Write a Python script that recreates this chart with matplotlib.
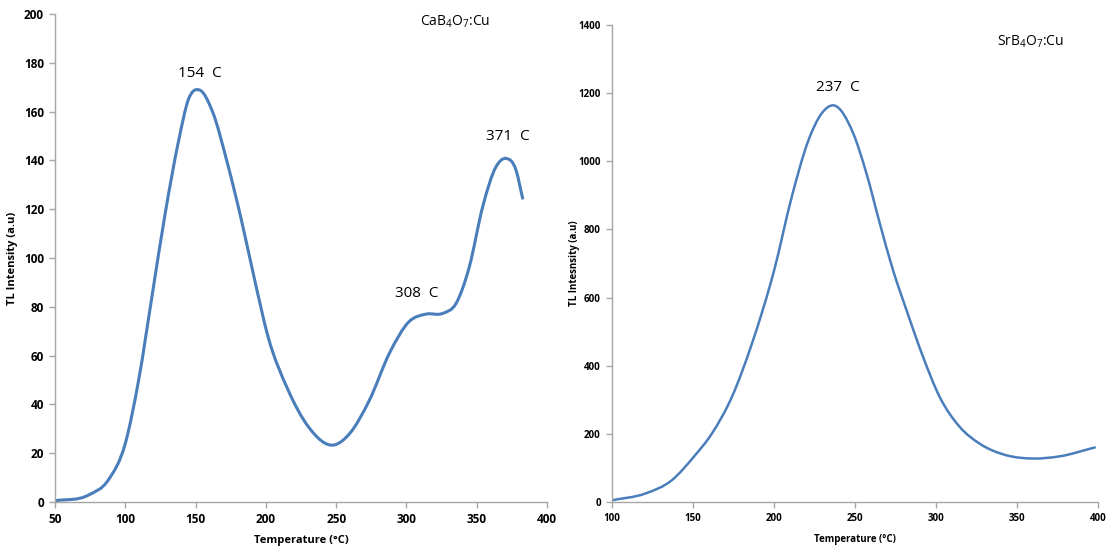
import numpy as np
import matplotlib.pyplot as plt
from matplotlib.path import Path
from matplotlib.patches import PathPatch

plt.rcParams['font.family'] = ['Open Sans', 'DejaVu Sans']
plt.rcParams['mathtext.fontset'] = 'custom'
plt.rcParams['mathtext.rm'] = 'Open Sans'
plt.rcParams['mathtext.it'] = 'Open Sans'

# CaB4O7:Cu glow curve
ca_temp = [50, 73.7, 87.9, 100, 109.5, 118.9, 128.4, 137.9, 144.9, 153, 162,
           173, 182.6, 192, 201.5, 215.7, 230, 248.9, 259.5, 273.7, 287.9, 302,
           314, 325.8, 335.3, 344.7, 354.2, 363.7, 370.8, 377.9, 382.6]
ca_tl = [0.5, 2.8, 9, 24, 50, 84, 118.4, 148, 165, 168.8, 160,
         138, 115.5, 91, 67.8, 46, 31, 23.4, 28, 41.8, 61, 74,
         77, 77.3, 81.4, 96.4, 121, 137.4, 140.8, 136, 124.5]

# SrB4O7:Cu glow curve
sr_temp = [100, 120.5, 137, 150.4, 161.7, 174, 186.4, 200.1, 211, 221.3, 229.5,
           237, 248.9, 257.1, 265.3, 273.5, 281.8, 292, 302.3, 314.7,
           327, 343.5, 359.9, 376.4, 398]
sr_tl = [5, 24.6, 64, 132, 201, 308, 465, 680, 896, 1062, 1141,
         1164, 1082, 964, 818, 680, 563, 426, 308, 220,
         171, 137, 127.5, 134, 160]

ca_peaks = [(153, 175.8, '154  C'), (307.5, 85.6, '308  C'), (372, 149.6, '371  C')]
sr_peaks = [(239.4, 1216, '237  C')]

blue = '#4a7ebb'
grey = '#a6a6a6'


def smooth_path(x, y):
    # cubic hermite through the points, drawn as bezier segments
    x = np.asarray(x, float)
    y = np.asarray(y, float)
    n = len(x)
    m = np.zeros(n)
    m[0] = (y[1] - y[0]) / (x[1] - x[0])
    m[-1] = (y[-1] - y[-2]) / (x[-1] - x[-2])
    for i in range(1, n - 1):
        d0 = (y[i] - y[i - 1]) / (x[i] - x[i - 1])
        d1 = (y[i + 1] - y[i]) / (x[i + 1] - x[i])
        h0 = x[i] - x[i - 1]
        h1 = x[i + 1] - x[i]
        m[i] = (d0 * h1 + d1 * h0) / (h0 + h1)
    verts = [(x[0], y[0])]
    codes = [Path.MOVETO]
    for i in range(n - 1):
        h = x[i + 1] - x[i]
        verts += [(x[i] + h / 3, y[i] + m[i] * h / 3),
                  (x[i + 1] - h / 3, y[i + 1] - m[i + 1] * h / 3),
                  (x[i + 1], y[i + 1])]
        codes += [Path.CURVE4] * 3
    return Path(verts, codes)


def style_axes(ax, fs):
    for s in ['top', 'right']:
        ax.spines[s].set_visible(False)
    for s in ['left', 'bottom']:
        ax.spines[s].set_color(grey)
        ax.spines[s].set_linewidth(1.0)
    ax.tick_params(direction='out', length=4, width=1, color=grey,
                   labelsize=fs, pad=4)
    for lab in ax.get_xticklabels() + ax.get_yticklabels():
        lab.set_fontweight('bold')


fig = plt.figure(figsize=(11.07, 5.51), dpi=100)

# left panel
ax1 = fig.add_axes([0.0497, 0.089, 0.4445, 0.8856])
ax1.add_patch(PathPatch(smooth_path(ca_temp, ca_tl), fill=False,
                        edgecolor=blue, lw=2.2, capstyle='round'))
ax1.set_xlim(50, 400)
ax1.set_ylim(0, 200)
ax1.set_xticks(np.arange(50, 401, 50))
ax1.set_yticks(np.arange(0, 201, 20))
style_axes(ax1, 8.5)
ax1.set_xlabel('Temperature (°C)', fontsize=8, fontweight='bold')
ax1.set_ylabel('TL Intensity (a.u)', fontsize=8, fontweight='bold')
ax1.xaxis.set_label_coords(0.5, -0.068)
ax1.yaxis.set_label_coords(-0.076, 0.5)
for tx, ty, s in ca_peaks:
    ax1.text(tx, ty, s, ha='center', va='center', fontsize=11)
ax1.text(309.6, 197, 'CaB$_4$O$_7$:Cu', ha='left', va='center', fontsize=10)

# right panel
ax2 = fig.add_axes([0.5528, 0.089, 0.4391, 0.8656])
ax2.add_patch(PathPatch(smooth_path(sr_temp, sr_tl), fill=False,
                        edgecolor=blue, lw=1.8, capstyle='round'))
ax2.set_xlim(100, 400)
ax2.set_ylim(0, 1400)
ax2.set_xticks(np.arange(100, 401, 50))
ax2.set_yticks(np.arange(0, 1401, 200))
style_axes(ax2, 7)
ax2.set_xlabel('Temperature (°C)', fontsize=7, fontweight='bold')
ax2.set_ylabel('TL Intesnsity (a.u)', fontsize=7, fontweight='bold')
ax2.xaxis.set_label_coords(0.5, -0.068)
ax2.yaxis.set_label_coords(-0.066, 0.5)
for tx, ty, s in sr_peaks:
    ax2.text(tx, ty, s, ha='center', va='center', fontsize=11)
ax2.text(337.5, 1351, 'SrB$_4$O$_7$:Cu', ha='left', va='center', fontsize=10)

fig.savefig('out.png', dpi=100)
